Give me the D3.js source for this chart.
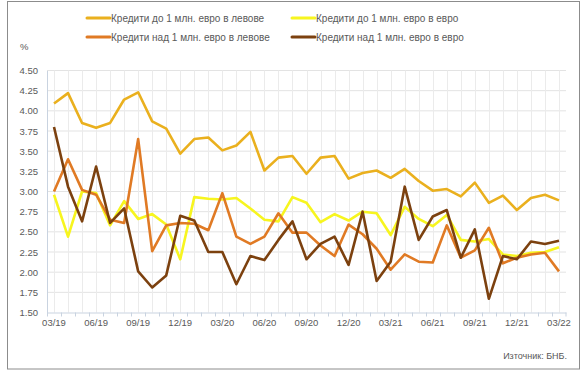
<!DOCTYPE html>
<html>
<head>
<meta charset="utf-8">
<script src="https://cdn.jsdelivr.net/npm/d3@7"></script>
<style>
body{margin:0;background:#fff;}
svg text{font-family:"Liberation Sans",Arial,sans-serif;fill:#595959;}
</style>
</head>
<body>
<div id="plot"></div>
<script>
// monthly data 03/19 - 03/22
var months = ['03/19','04/19','05/19','06/19','07/19','08/19','09/19','10/19','11/19','12/19',
	'01/20','02/20','03/20','04/20','05/20','06/20','07/20','08/20','09/20','10/20','11/20','12/20',
	'01/21','02/21','03/21','04/21','05/21','06/21','07/21','08/21','09/21','10/21','11/21','12/21',
	'01/22','02/22','03/22'];

var tickLabels = ['03/19','06/19','09/19','12/19','03/20','06/20','09/20','12/20','03/21','06/21','09/21','12/21','03/22'];
var yTicks = [1.5,1.75,2,2.25,2.5,2.75,3,3.25,3.5,3.75,4,4.25,4.5];

var seriesNames = ['Кредити до 1 млн. евро в левове','Кредити до 1 млн. евро в евро',
	'Кредити над 1 млн. евро в левове','Кредити над 1 млн. евро в евро'];
var seriesColors = ['#EAB01E','#F7F51F','#E07A24','#7C410F'];

var smallBgn = [4.09,4.22,3.85,3.79,3.85,4.14,4.23,3.87,3.78,3.47,3.65,3.67,3.51,3.57,3.74,3.26,3.42,3.44,
	3.22,3.42,3.44,3.16,3.23,3.26,3.17,3.28,3.13,3.01,3.03,2.94,3.11,2.86,2.95,2.77,2.92,2.96,2.89];
var smallEur = [2.96,2.44,3.00,2.98,2.58,2.88,2.66,2.72,2.59,2.16,2.93,2.91,2.90,2.92,2.79,2.65,2.63,2.93,
	2.86,2.62,2.72,2.64,2.75,2.73,2.46,2.81,2.66,2.57,2.71,2.40,2.38,2.41,2.22,2.20,2.24,2.25,2.31];
var bigBgn = [3.00,3.40,3.02,2.96,2.65,2.61,3.65,2.26,2.58,2.61,2.60,2.52,2.98,2.44,2.35,2.44,2.73,2.49,
	2.49,2.33,2.20,2.59,2.47,2.29,2.03,2.22,2.13,2.12,2.58,2.18,2.27,2.55,2.11,2.18,2.22,2.24,2.01];
var bigEur = [3.80,3.06,2.63,3.31,2.61,2.79,2.01,1.81,1.96,2.70,2.64,2.25,2.25,1.85,2.20,2.15,2.40,2.63,
	2.16,2.35,2.44,2.09,2.75,1.89,2.13,3.06,2.40,2.69,2.77,2.18,2.53,1.67,2.20,2.16,2.38,2.35,2.39];

var seriesData = [smallBgn, smallEur, bigBgn, bigEur];

var W = 583, H = 373;
var margin = {t:70.5,r:17,b:60.5,l:47};
var width = W-margin.l-margin.r,
	height = H-margin.t-margin.b;

var svg = d3.select('#plot')
	.append('svg')
	.attr('width',W)
	.attr('height',H);

// outer frame
svg.append('rect')
	.attr('x',7.5).attr('y',1.5)
	.attr('width',572).attr('height',367.5)
	.attr('fill','none')
	.attr('stroke','#8c8c8c')
	.attr('stroke-width',1);

var plot = svg.append('g')
	.attr('transform','translate('+margin.l+','+margin.t+')');

var scaleX = d3.scaleBand().domain(months).range([0,width]);
var scaleY = d3.scaleLinear().domain([1.5,4.5]).range([height,0]);

function xc(m){ return scaleX(m)+scaleX.bandwidth()/2; }

// horizontal grid
plot.selectAll('.hgrid')
	.data(yTicks.slice(1))
	.enter()
	.append('line').attr('class','hgrid')
	.attr('x1',0).attr('x2',width)
	.attr('y1',function(d){return scaleY(d)})
	.attr('y2',function(d){return scaleY(d)})
	.attr('stroke','#e3e3e3')
	.attr('stroke-width',1);

// vertical grid (each month)
plot.selectAll('.vgrid')
	.data(months)
	.enter()
	.append('line').attr('class','vgrid')
	.attr('x1',function(d){return Math.round(xc(d))+0.5})
	.attr('x2',function(d){return Math.round(xc(d))+0.5})
	.attr('y1',0).attr('y2',height)
	.attr('stroke','#ebebeb')
	.attr('stroke-width',1);

// y axis
var yAxis = d3.axisLeft(scaleY)
	.tickValues(yTicks)
	.tickSize(0)
	.tickPadding(9)
	.tickFormat(d3.format('.2f'));

var gy = plot.append('g').call(yAxis);
gy.select('.domain').attr('stroke','#c9d3e0');
gy.selectAll('text').style('font-size','9.5px').attr('fill','#595959');

// x axis
var xAxis = d3.axisBottom(scaleX)
	.tickValues(tickLabels)
	.tickSize(0)
	.tickPadding(7);

var gx = plot.append('g')
	.attr('transform','translate(0,'+height+')')
	.call(xAxis);
gx.select('.domain').attr('stroke','#c9d3e0');
gx.selectAll('text').style('font-size','9.5px').attr('fill','#595959');

// small ticks between months
gx.selectAll('.mtick')
	.data(months.concat(['end']))
	.enter()
	.append('line').attr('class','mtick')
	.attr('x1',function(d){return d=='end' ? width : Math.round(scaleX(d))+0.5})
	.attr('x2',function(d){return d=='end' ? width : Math.round(scaleX(d))+0.5})
	.attr('y1',0).attr('y2',4)
	.attr('stroke','#c9d3e0');

// lines
var line = d3.line()
	.x(function(d,i){return xc(months[i])})
	.y(function(d){return scaleY(d)});

plot.selectAll('.series')
	.data(seriesData)
	.enter()
	.append('path').attr('class','series')
	.attr('d',function(d){return line(d)})
	.attr('fill','none')
	.attr('stroke',function(d,i){return seriesColors[i]})
	.attr('stroke-width',2.6)
	.attr('stroke-linejoin','round');

// legend
var legendPos = [[87,18],[292,18],[87,37],[292,37]];
var legend = svg.selectAll('.legend')
	.data(seriesNames)
	.enter()
	.append('g').attr('class','legend')
	.attr('transform',function(d,i){return 'translate('+legendPos[i][0]+','+legendPos[i][1]+')'});

legend.append('line')
	.attr('x1',0).attr('x2',23)
	.attr('y1',0).attr('y2',0)
	.attr('stroke',function(d,i){return seriesColors[i]})
	.attr('stroke-width',3)
	.attr('stroke-linecap','round');

legend.append('text')
	.attr('x',24).attr('y',3.5)
	.style('font-size','10px')
	.text(function(d){return d});

svg.append('text')
	.attr('x',20).attr('y',50)
	.style('font-size','9.5px')
	.text('%');

svg.append('text')
	.attr('x',567).attr('y',359)
	.attr('text-anchor','end')
	.style('font-size','9px')
	.text('Източник: БНБ.');
</script>
</body>
</html>
